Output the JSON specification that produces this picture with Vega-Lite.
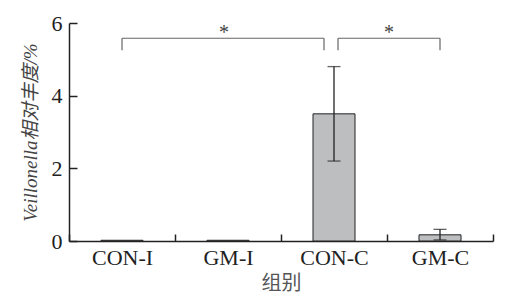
{
  "$schema": "https://vega.github.io/schema/vega-lite/v6.json",
  "width": 424,
  "height": 218,
  "autosize": "none",
  "padding": {"left": 69, "top": 23, "right": 18, "bottom": 66},
  "background": "white",
  "config": {
    "view": {"stroke": null},
    "font": "Liberation Serif, Noto Sans CJK SC",
    "axis": {"labelFont": "Liberation Serif", "titleFont": "Liberation Serif, Noto Sans CJK SC"}
  },
  "datasets": {
    "bars": [
      {"group": "CON-I", "value": 0.02},
      {"group": "GM-I", "value": 0.02},
      {"group": "CON-C", "value": 3.5},
      {"group": "GM-C", "value": 0.17}
    ],
    "errs": [
      {"group": "CON-C", "lo": 2.2, "hi": 4.8},
      {"group": "GM-C", "lo": 0.03, "hi": 0.32}
    ],
    "b1": [{"a": "CON-I", "b": "CON-C", "top": 5.58, "bot": 5.25}],
    "b2": [{"a": "CON-C", "b": "GM-C", "top": 5.58, "bot": 5.25}],
    "s1": [{"group": "GM-I", "y": 5.46, "label": "*"}],
    "s2": [{"group": "CON-C", "y": 5.46, "label": "*"}]
  },
  "encoding": {
    "x": {
      "field": "group", "type": "nominal",
      "sort": ["CON-I", "GM-I", "CON-C", "GM-C"],
      "scale": {"domain": ["CON-I", "GM-I", "CON-C", "GM-C"], "paddingInner": 0, "paddingOuter": 0},
      "axis": {
        "title": "组别", "labelAngle": 0, "tickBand": "extent",
        "tickSize": -7, "tickColor": "#222", "tickWidth": 1.5,
        "domainColor": "#222", "domainWidth": 1.5,
        "labelFont": "Liberation Serif", "labelFontSize": 22, "labelColor": "#222", "labelPadding": 13,
        "titleFontSize": 20, "titleFont": "Noto Sans CJK SC", "titleFontWeight": "normal", "titleColor": "#555", "titlePadding": 5
      }
    }
  },
  "layer": [
    {
      "data": {"name": "bars"},
      "mark": {"type": "bar", "size": 42, "fill": "#bdbec0", "stroke": "#222", "strokeWidth": 1},
      "encoding": {
        "y": {
          "field": "value", "type": "quantitative",
          "scale": {"domain": [0, 6], "nice": false},
          "axis": {
            "values": [0, 2, 4, 6], "grid": false, "tickSize": -8, "tickColor": "#222", "tickWidth": 1.5,
            "domainColor": "#222", "domainWidth": 1.5,
            "labelFont": "Liberation Serif", "labelFontSize": 22, "labelColor": "#222", "labelPadding": 15,
            "title": "Veillonella相对丰度/%", "titleFontSize": 19, "titleFontStyle": "italic",
            "titleFont": "Liberation Serif, Noto Sans CJK SC",
            "titleFontWeight": "normal", "titleColor": "#444", "titlePadding": 11
          }
        }
      }
    },
    {
      "data": {"name": "errs"},
      "mark": {"type": "rule", "color": "#222", "strokeWidth": 1.3},
      "encoding": {"y": {"field": "lo", "type": "quantitative"}, "y2": {"field": "hi"}}
    },
    {
      "data": {"name": "errs"},
      "mark": {"type": "tick", "orient": "horizontal", "size": 13, "thickness": 1.3, "color": "#222"},
      "encoding": {"y": {"field": "hi", "type": "quantitative"}}
    },
    {
      "data": {"name": "errs"},
      "mark": {"type": "tick", "orient": "horizontal", "size": 13, "thickness": 1.3, "color": "#222"},
      "encoding": {"y": {"field": "lo", "type": "quantitative"}}
    },
    {
      "data": {"name": "b1"},
      "mark": {"type": "rule", "color": "#666", "strokeWidth": 1.2, "x2Offset": -10},
      "encoding": {"x2": {"field": "b"}, "x": {"field": "a", "type": "nominal"}, "y": {"field": "top", "type": "quantitative"}}
    },
    {
      "data": {"name": "b1"},
      "mark": {"type": "rule", "color": "#666", "strokeWidth": 1.2},
      "encoding": {"x": {"field": "a", "type": "nominal"}, "y": {"field": "bot", "type": "quantitative"}, "y2": {"field": "top"}}
    },
    {
      "data": {"name": "b1"},
      "mark": {"type": "rule", "color": "#666", "strokeWidth": 1.2, "xOffset": -10},
      "encoding": {"x": {"field": "b", "type": "nominal"}, "y": {"field": "bot", "type": "quantitative"}, "y2": {"field": "top"}}
    },
    {
      "data": {"name": "b2"},
      "mark": {"type": "rule", "color": "#666", "strokeWidth": 1.2, "xOffset": 4},
      "encoding": {"x2": {"field": "b"}, "x": {"field": "a", "type": "nominal"}, "y": {"field": "top", "type": "quantitative"}}
    },
    {
      "data": {"name": "b2"},
      "mark": {"type": "rule", "color": "#666", "strokeWidth": 1.2, "xOffset": 4},
      "encoding": {"x": {"field": "a", "type": "nominal"}, "y": {"field": "bot", "type": "quantitative"}, "y2": {"field": "top"}}
    },
    {
      "data": {"name": "b2"},
      "mark": {"type": "rule", "color": "#666", "strokeWidth": 1.2},
      "encoding": {"x": {"field": "b", "type": "nominal"}, "y": {"field": "bot", "type": "quantitative"}, "y2": {"field": "top"}}
    },
    {
      "data": {"name": "s1"},
      "mark": {"type": "text", "fontSize": 20, "color": "#444", "baseline": "bottom", "xOffset": -4, "font": "Liberation Serif"},
      "encoding": {"x": {"field": "group", "type": "nominal"}, "y": {"field": "y", "type": "quantitative"}, "text": {"field": "label"}}
    },
    {
      "data": {"name": "s2"},
      "mark": {"type": "text", "fontSize": 20, "color": "#444", "baseline": "bottom", "xOffset": 55, "font": "Liberation Serif"},
      "encoding": {"x": {"field": "group", "type": "nominal"}, "y": {"field": "y", "type": "quantitative"}, "text": {"field": "label"}}
    }
  ]
}
